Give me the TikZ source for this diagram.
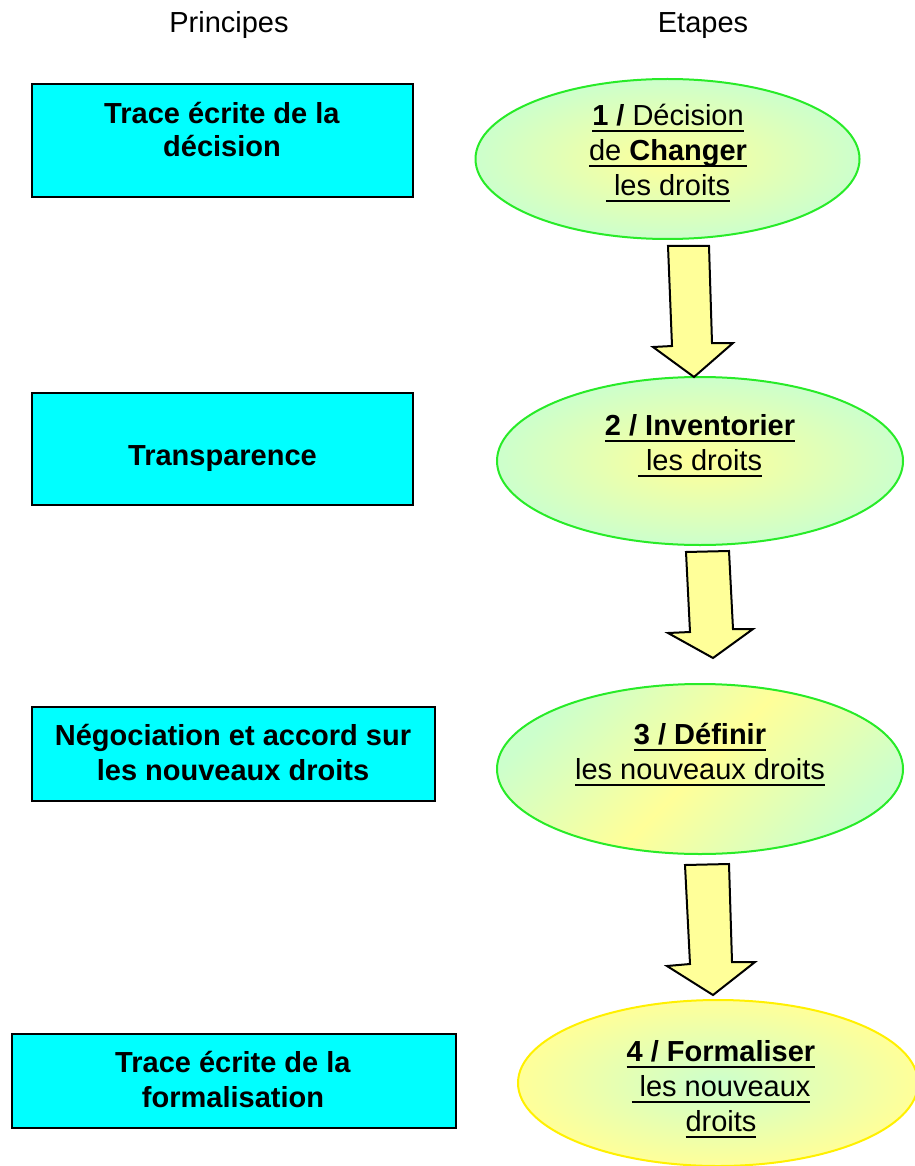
\documentclass[tikz,border=0pt]{standalone}
\usepackage{fontspec}
\setmainfont{Liberation Sans}
\usetikzlibrary{shapes.geometric}
\newcommand\ulx[1]{\setbox0=\hbox{#1}\rlap{\rule[-6.5pt]{\wd0}{2pt}}\box0}
\definecolor{cyanbox}{RGB}{0,255,255}
\definecolor{lgreen}{RGB}{204,255,204}
\definecolor{lyellow}{RGB}{255,255,153}
\definecolor{brgreen}{RGB}{40,235,40}
\definecolor{bryellow}{RGB}{255,240,0}
\begin{document}
\begin{tikzpicture}[x=1pt,y=-1pt,
  every node/.style={inner sep=0pt, outer sep=0pt},
  txt/.style={font=\fontsize{29}{33}\selectfont, anchor=base, align=center},
  wide/.style={font=\fontsize{29}{35}\selectfont},
  princ/.style={draw=black, line width=1.5pt, fill=cyanbox, rectangle},
  etape/.style={ellipse, draw=brgreen, line width=2pt},
  blockarrow/.style={draw=black, line width=2pt, fill=lyellow, line join=miter}
]
\useasboundingbox[fill=white] (0,0) rectangle (914,1166);

% headers
\node[txt] (hp) at (229,33) {Principes};
\node[txt] (he) at (703,33) {Etapes};

% principle boxes
\node[princ, minimum width=381pt, minimum height=113pt] (p1) at (222.5,140.5) {};
\node[princ, minimum width=381pt, minimum height=112pt] (p2) at (222.5,449) {};
\node[princ, minimum width=403pt, minimum height=94pt] (p3) at (233.5,754) {};
\node[princ, minimum width=444pt, minimum height=94pt] (p4) at (234,1081) {};

\node[txt] (p1t) at (222,157) {\textbf{Trace écrite de la}\\\textbf{décision}};
\node[txt] (p2t) at (222.5,465) {\textbf{Transparence}};
\node[txt, wide] (p3t) at (233,780) {\textbf{Négociation et accord sur}\\\textbf{les nouveaux droits}};
\node[txt, wide] (p4t) at (233,1107) {\textbf{Trace écrite de la}\\\textbf{formalisation}};

% step ellipses
\node[etape, minimum width=384pt, minimum height=160pt, inner color=lyellow, outer color=lgreen] (e1) at (667.5,159) {};
\node[etape, minimum width=406pt, minimum height=168pt, inner color=lyellow, outer color=lgreen] (e2) at (700,461) {};
\node[etape, minimum width=406pt, minimum height=170pt, top color=lgreen, bottom color=lgreen, middle color=lyellow, shading angle=45] (e3) at (700,769) {};
\node[etape, draw=bryellow, minimum width=400pt, minimum height=166pt, inner color=lgreen, outer color=lyellow] (e4) at (718,1083) {};

\node[txt, wide] (e1t) at (668,196) {\ulx{\textbf{1 /} Décision}\\\ulx{de \textbf{Changer}}\\\ulx{\ les droits}};
\node[txt, wide] (e2t) at (700,470) {\ulx{\textbf{2 / Inventorier}}\\\ulx{\ les droits}};
\node[txt, wide] (e3t) at (700,779) {\ulx{\textbf{3 / Définir}}\\\ulx{les nouveaux droits}};
\node[txt, wide] (e4t) at (721,1131) {\ulx{\textbf{4 / Formaliser}}\\\ulx{\ les nouveaux}\\\ulx{droits}};

% block arrows
\draw[blockarrow] (668,246) -- (709,246) -- (712,343) -- (733,343) -- (694,377) -- (653,347) -- (672,346) -- cycle;
\draw[blockarrow] (686,552) -- (729,551) -- (733,629) -- (753,629) -- (713,658) -- (668,633) -- (690,632) -- cycle;
\draw[blockarrow] (685,865) -- (729,864) -- (732,962) -- (755,962) -- (713,995) -- (667,966) -- (690,964) -- cycle;
\end{tikzpicture}
\end{document}
